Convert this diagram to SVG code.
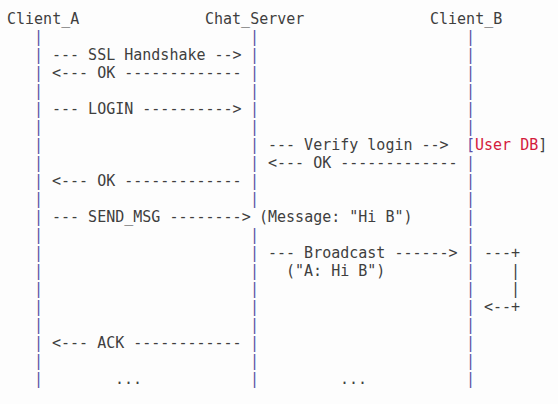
<svg xmlns="http://www.w3.org/2000/svg" width="558" height="404" viewBox="0 0 558 404">
  <style>
    text { font-family: "DejaVu Sans Mono", "Liberation Mono", monospace; font-size: 15px; white-space: pre; }
    .t { fill: #3f3f3f; }
    .life { fill: #5a4fa6; }
    .db { fill: #d41a3c; }
  </style>
  <rect width="558" height="404" fill="#fdfdfd"/>

  <g id="client_a">
    <text class="t" x="7" y="24">Client_A</text>
    <text class="life" x="34 34 34 34 34 34 34 34 34 34 34 34 34 34 34 34 34 34 34 34" y="42 60 78 96 114 132 150 168 186 204 222 240 258 276 294 312 330 348 366 384">||||||||||||||||||||</text>
  </g>

  <g id="chat_server">
    <text class="t" x="205" y="24">Chat_Server</text>
    <text class="life" x="250 250 250 250 250 250 250 250 250 250" y="42 60 78 96 114 132 150 168 186 204">||||||||||</text>
    <text class="life" x="250 250 250 250 250 250 250 250 250" y="240 258 276 294 312 330 348 366 384">|||||||||</text>
  </g>

  <g id="client_b">
    <text class="t" x="430" y="24">Client_B</text>
    <text class="life" x="466 466 466 466 466 466" y="42 60 78 96 114 132">||||||</text>
    <text class="life" x="466 466 466 466 466 466 466 466 466 466 466 466 466" y="168 186 204 222 240 258 276 294 312 330 348 366 384">|||||||||||||</text>
  </g>

  <g id="user_db">
    <text class="t" x="466" y="150"><tspan class="life">[</tspan><tspan class="db">User DB</tspan>]</text>
  </g>

  <g id="connectors">
    <text class="t" x="52" y="60">--- SSL Handshake --&gt;</text>
    <text class="t" x="52" y="78">&lt;--- OK -------------</text>
    <text class="t" x="52" y="114">--- LOGIN ----------&gt;</text>
    <text class="t" x="268" y="150">--- Verify login --&gt;</text>
    <text class="t" x="268" y="168">&lt;--- OK -------------</text>
    <text class="t" x="52" y="186">&lt;--- OK -------------</text>
    <text class="t" x="52" y="222">--- SEND_MSG --------&gt;</text>
    <text class="t" x="259" y="222">(Message: "Hi B")</text>
    <text class="t" x="268" y="258">--- Broadcast ------&gt;</text>
    <text class="t" x="484" y="258">---+</text>
    <text class="t" x="286" y="276">("A: Hi B")</text>
    <text class="t" x="511 511" y="276 294">||</text>
    <text class="t" x="484" y="312">&lt;--+</text>
    <text class="t" x="52" y="348">&lt;--- ACK ------------</text>
    <text class="t" x="115" y="384">...</text>
    <text class="t" x="340" y="384">...</text>
  </g>
</svg>
